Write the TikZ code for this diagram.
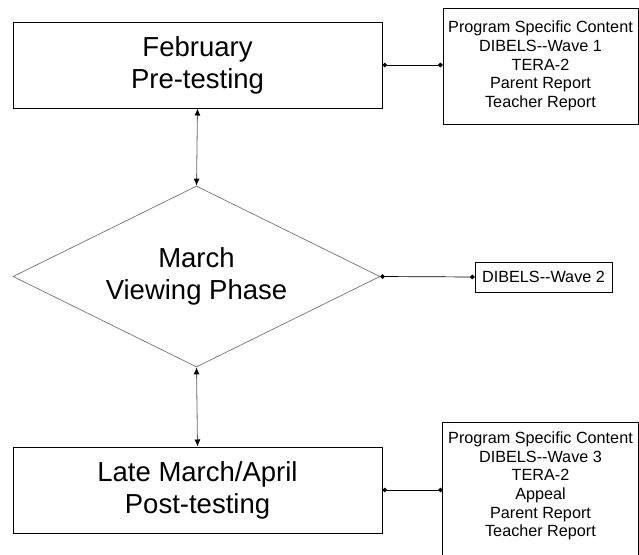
\documentclass[tikz,border=0pt]{standalone}
\usepackage{fontspec}
\setmainfont{Liberation Sans}
\usetikzlibrary{shapes.geometric,arrows.meta}

\tikzset{
  phasebox/.style={draw,line width=1pt,minimum width=369pt,minimum height=86pt,
    align=center,font=\fontsize{27.5}{32}\selectfont},
  phasediamond/.style={diamond,draw=black!55,line width=0.7pt,inner sep=0pt,
    minimum width=367pt,minimum height=181pt,aspect=2.03,
    align=center,font=\fontsize{27.5}{32}\selectfont},
  infobox/.style={draw,line width=0.8pt,minimum width=195pt,inner sep=3pt,
    align=center,font=\fontsize{16.2}{18.6}\selectfont},
  infotext/.style={minimum width=195pt,inner sep=0pt,
    align=center,font=\fontsize{16.2}{18.6}\selectfont},
  flow/.style={black!60,line width=0.8pt,{Latex[black,length=7pt,width=6pt]}-{Latex[black,length=7pt,width=6pt]}},
  link/.style={line width=0.7pt,{Circle[length=4.5pt]}-{Circle[length=4.5pt]}},
}

\begin{document}
\begin{tikzpicture}[x=1pt,y=-1pt]
\useasboundingbox (0,0) rectangle (639,554);
\node[phasebox] (pre) at (197.5,65) {February\\Pre-testing};
\node[phasediamond] (view) at (196.5,276.5) {March\\Viewing Phase};
\node[phasebox] (post) at (197.5,490) {Late March/April\\Post-testing};

\node[infobox,minimum height=116pt] (preinfo) at (540.5,66)
  {Program Specific Content\\DIBELS-{}-Wave 1\\TERA-2\\Parent Report\\Teacher Report};
\node[infobox,minimum width=137pt,minimum height=30pt,inner sep=2pt] (viewinfo) at (543.5,277) {DIBELS-{}-Wave 2};
\node[infotext] (postinfo) at (540.5,486)
  {Program Specific Content\\DIBELS-{}-Wave 3\\TERA-2\\Appeal\\Parent Report\\Teacher Report};
\draw[line width=0.8pt] (postinfo.west |- 0,580) -- (postinfo.west |- 0,422)
  -- (postinfo.east |- 0,422) -- (postinfo.east |- 0,580);

\draw[flow] (pre.south) -- (view.north);
\draw[flow] (view.south) -- (post.north);

\draw[link] (pre.east) -- (pre.east -| preinfo.west);
\draw[link] (view.east) -- (viewinfo.west);
\draw[link] (post.east) -- (post.east -| postinfo.west);

\end{tikzpicture}
\end{document}
